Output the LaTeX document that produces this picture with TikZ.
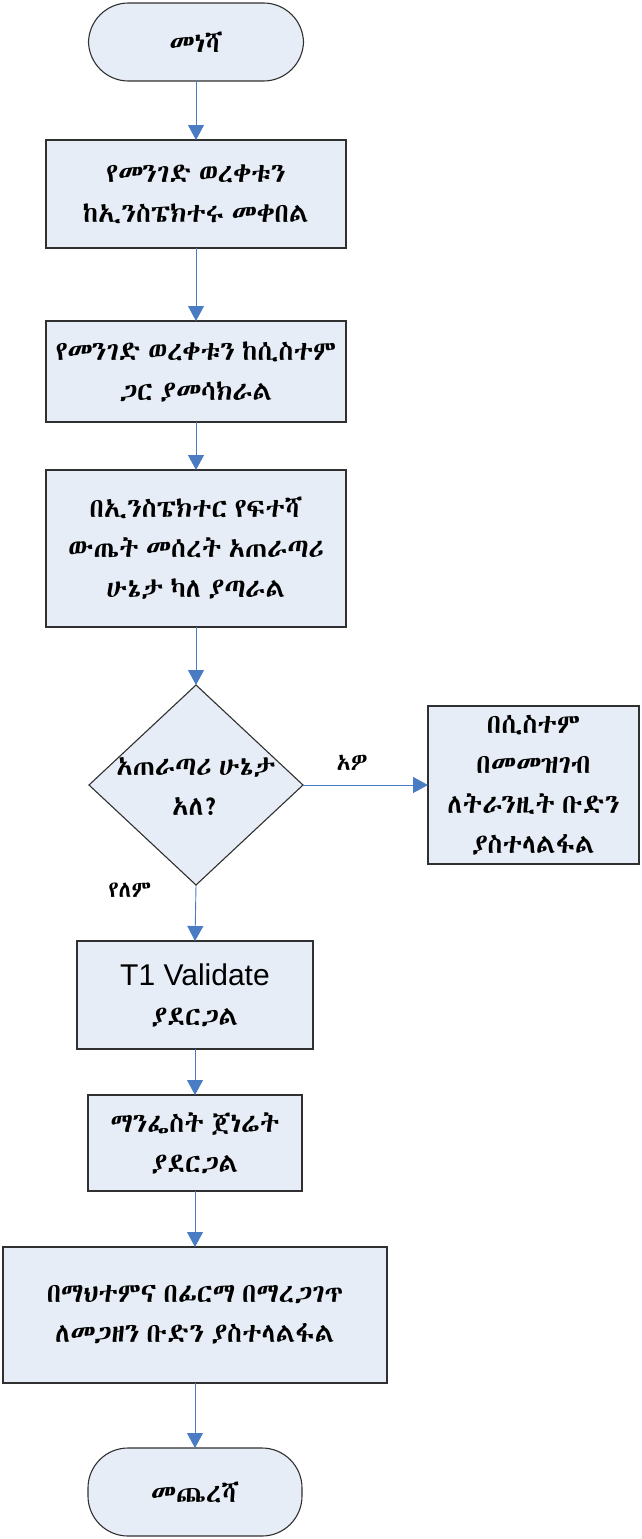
\documentclass[tikz,border=0pt]{standalone}
\usepackage{fontspec}
\usetikzlibrary{arrows.meta,shapes.geometric}
\setmainfont{Liberation Sans}
\IfFontExistsTF{Abyssinica SIL}{\newfontfamily\ethfont[Script=Ethiopic,WordSpace=0.6]{Abyssinica SIL}}{%
  \IfFontExistsTF{FreeSerif}{\newfontfamily\ethfont[WordSpace=0.6]{FreeSerif}}{%
    \newfontfamily\ethfont{DejaVu Sans}}}
\definecolor{boxfill}{HTML}{E7EDF7}
\definecolor{boxline}{HTML}{303030}
\definecolor{flow}{HTML}{4A7CC4}
\begin{document}
\begin{tikzpicture}[x=1pt,y=-1pt,
  every node/.style={inner sep=0pt,outer sep=0pt},
  etext/.style={font=\ethfont\fontsize{27}{40}\selectfont,align=center},
  stepbox/.style={draw=boxline,fill=boxfill,line width=1.1pt,etext},
  termbox/.style={stepbox,rounded corners=40pt},
  decbox/.style={draw=boxline,fill=boxfill,line width=1.1pt,diamond},
  flowline/.style={draw=flow,line width=0.9pt,-{Triangle[width=16pt,length=15pt]}},
  lbl/.style={font=\ethfont\fontsize{23}{24}\selectfont}
]
\useasboundingbox (0,0) rectangle (642,1539);

% process steps
\node[termbox,minimum width=215pt,minimum height=78pt] (start) at (196,42) {መነሻ};
\node[stepbox,minimum width=300pt,minimum height=108pt] (s1) at (196,194)
  {የመንገድ ወረቀቱን\\ከኢንስፔክተሩ መቀበል};
\node[stepbox,minimum width=300pt,minimum height=101pt] (s2) at (196,371.5)
  {የመንገድ ወረቀቱን ከሲስተም\\ጋር ያመሳክራል};
\node[stepbox,minimum width=300pt,minimum height=157pt] (s3) at (196,548.5)
  {በኢንስፔክተር የፍተሻ\\ውጤት መሰረት አጠራጣሪ\\ሁኔታ ካለ ያጣራል};

% decision
\node[decbox,minimum width=214pt,minimum height=200pt] (dec) at (196,785) {};
\node[etext] (dect) at (196,786) {አጠራጣሪ ሁኔታ\\አለ?};
\node[stepbox,minimum width=211pt,minimum height=158pt] (side) at (533.5,785)
  {በሲስተም\\በመመዝገብ\\ለትራንዚት ቡድን\\ያስተላልፋል};
\node[lbl] (yes) at (352,763) {አዎ};
\node[lbl] (no) at (130,890) {የለም};

\node[stepbox,minimum width=236pt,minimum height=108pt] (t1) at (195,995)
  {{\rmfamily\fontsize{30}{40}\selectfont T1 Validate}\\ያደርጋል};
\node[stepbox,minimum width=214pt,minimum height=96pt] (man) at (195,1143)
  {ማንፌስት ጀነሬት\\ያደርጋል};
\node[stepbox,minimum width=384pt,minimum height=136pt] (seal) at (195,1315)
  {በማህተምና በፊርማ በማረጋገጥ\\ለመጋዘን ቡድን ያስተላልፋል};
\node[termbox,minimum width=214pt,minimum height=88pt] (stop) at (195,1492) {መጨረሻ};

% connectors
\draw[flowline] (start) -- (s1);
\draw[flowline] (s1) -- (s2);
\draw[flowline] (s2) -- (s3);
\draw[flowline] (s3) -- (dec);
\draw[flowline] (dec.east) -- (side.west);
\draw[flowline] (dec.south) -- (t1.north);
\draw[flowline] (t1) -- (man);
\draw[flowline] (man) -- (seal);
\draw[flowline] (seal) -- (stop);
\end{tikzpicture}
\end{document}
